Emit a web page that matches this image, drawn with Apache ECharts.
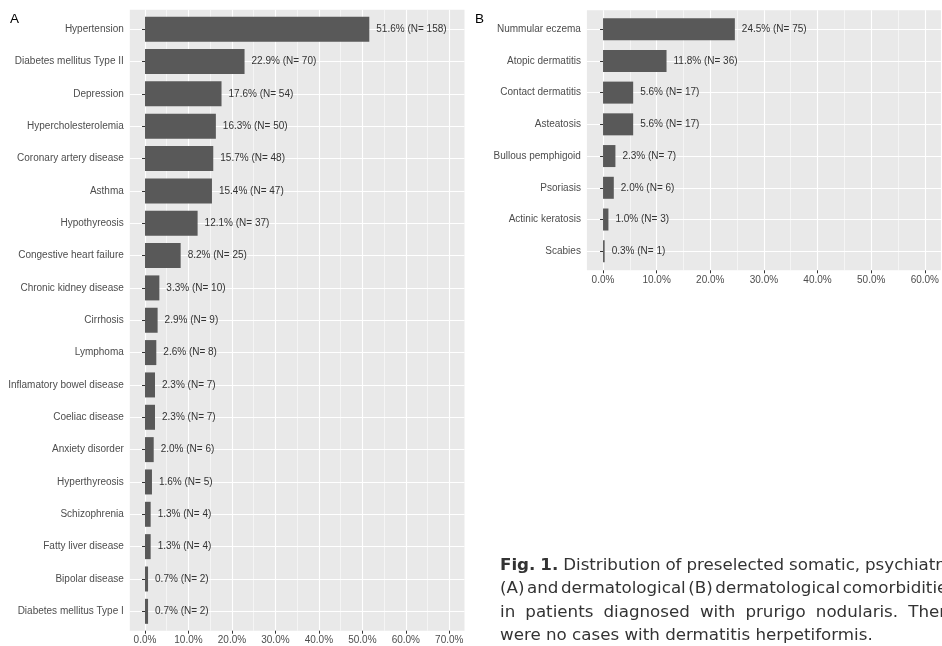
<!DOCTYPE html>
<html>
<head>
<meta charset="utf-8">
<script src="https://cdn.jsdelivr.net/npm/echarts@6/dist/echarts.min.js"></script>
<style>html,body{margin:0;padding:0;background:#fff}#c{width:942px;height:646px}</style>
</head>
<body>
<div id="c"></div>
<script>
const catsA = ['Hypertension','Diabetes mellitus Type II','Depression','Hypercholesterolemia','Coronary artery disease','Asthma','Hypothyreosis','Congestive heart failure','Chronic kidney disease','Cirrhosis','Lymphoma','Inflamatory bowel disease','Coeliac disease','Anxiety disorder','Hyperthyreosis','Schizophrenia','Fatty liver disease','Bipolar disease','Diabetes mellitus Type I'];
const pctA = [51.6,22.9,17.6,16.3,15.7,15.4,12.1,8.2,3.3,2.9,2.6,2.3,2.3,2.0,1.6,1.3,1.3,0.7,0.7];
const nA = [158,70,54,50,48,47,37,25,10,9,8,7,7,6,5,4,4,2,2];

const catsB = ['Nummular eczema','Atopic dermatitis','Contact dermatitis','Asteatosis','Bullous pemphigoid','Psoriasis','Actinic keratosis','Scabies'];
const pctB = [24.5,11.8,5.6,5.6,2.3,2.0,1.0,0.3];
const nB = [75,36,17,17,7,6,3,1];

const ticksA = [0,10,20,30,40,50,60,70];
const minorA = [5,15,25,35,45,55,65];
const ticksB = [0,10,20,30,40,50,60];
const minorB = [5,15,25,35,45,55];

const captionBold = 'Fig. 1.';
const captionLines = [
  'Distribution of preselected somatic, psychiatric',
  '(A) and dermatological (B) dermatological comorbidities',
  'in patients diagnosed with prurigo nodularis. There',
  'were no cases with dermatitis herpetiformis.'
];

const FONT = 'Liberation Sans, Arial, sans-serif';
const CAP_FONT = 'DejaVu Sans';
const CAP_SIZE = 16.7;
const chart = echarts.init(document.getElementById('c'), null, {renderer:'canvas'});

function majorX(grid, min, max, ticks){
  return {type:'value', gridIndex:grid, min:min, max:max, z:1,
    axisLine:{show:false},
    axisTick:{show:true, customValues:ticks, length:3, lineStyle:{color:'#333333', width:1}},
    axisLabel:{show:true, customValues:ticks, margin:5, color:'#4D4D4D', fontSize:10, fontFamily:FONT,
      formatter:v=>v.toFixed(1)+'%'},
    splitLine:{show:true, lineStyle:{color:'#FFFFFF', width:1.1}}};
}
function minorX(grid, min, max, ticks){
  return {type:'value', gridIndex:grid, min:min, max:max, z:1,
    axisLine:{show:false},
    axisTick:{show:false, customValues:ticks},
    axisLabel:{show:false, customValues:ticks},
    splitLine:{show:true, lineStyle:{color:'#FFFFFF', width:0.55}}};
}
function hiddenX(grid, min, max){
  return {type:'value', gridIndex:grid, min:min, max:max, show:false, splitLine:{show:false}};
}
function catY(grid, cats){
  return {type:'category', gridIndex:grid, data:cats, inverse:true, z:1,
    axisLine:{show:false},
    axisTick:{show:true, alignWithLabel:true, length:3, lineStyle:{color:'#333333', width:1}},
    axisLabel:{margin:6, color:'#4D4D4D', fontSize:10, fontFamily:FONT},
    splitLine:{show:true, alignWithLabel:true, lineStyle:{color:'#FFFFFF', width:1.1}}};
}
function hiddenY(grid){
  return {type:'value', gridIndex:grid, min:0, max:1, show:false, splitLine:{show:false}};
}
function barSeries(xi, yi, vals, counts, w){
  return {type:'bar', xAxisIndex:xi, yAxisIndex:yi, data:vals, barWidth:w, z:2,
    itemStyle:{color:'#595959'},
    label:{show:true, position:'right', distance:7, color:'#333333', fontSize:10, fontFamily:FONT,
      formatter:p=>p.value.toFixed(1)+'% (N= '+counts[p.dataIndex]+')'},
    emphasis:{disabled:true}, animation:false};
}

// justified caption text (words placed along each line)
const mctx = document.createElement('canvas').getContext('2d');
function measure(t, bold){
  mctx.font = (bold ? 'bold ' : '') + CAP_SIZE + 'px "' + CAP_FONT + '"';
  return mctx.measureText(t).width;
}
function captionLine(tokens, x0, x1, y, justify){
  const widths = tokens.map(t => measure(t.text, t.bold));
  const total = widths.reduce((a,b)=>a+b,0);
  const spaceW = measure(' ', false);
  let gap = justify ? (x1 - x0 - total) / (tokens.length - 1) : spaceW;
  if (gap < 2.5) gap = 2.5;
  const els = [];
  let x = x0;
  tokens.forEach((t,i)=>{
    els.push({type:'text', x:x, y:y, silent:true,
      style:{text:t.text, fontSize:CAP_SIZE, fontFamily:CAP_FONT, fontWeight:t.bold?'bold':'normal',
        fill:'#333333', verticalAlign:'middle', align:'left'}});
    x += widths[i] + gap;
  });
  return els;
}
const capX0 = 500, capX1 = 956;
const capY = [565.5, 589, 612.5, 636];
let captionEls = [];
captionLines.forEach((line, i)=>{
  let tokens = line.split(' ').map(w=>({text:w, bold:false}));
  if (i === 0) tokens = captionBold.split(' ').map(w=>({text:w, bold:true})).concat(tokens);
  captionEls = captionEls.concat(captionLine(tokens, capX0, capX1, capY[i], i < captionLines.length - 1));
});

const option = {
  animation:false,
  grid:[
    {left:129.8, top:9.8, width:334.7, height:620.9, show:true, backgroundColor:'#E9E9E9', borderWidth:0, z:0},
    {left:129.8, top:13.0, width:334.7, height:614.5, show:false},
    {left:586.9, top:10.2, width:361.2, height:260.1, show:true, backgroundColor:'#E9E9E9', borderWidth:0, z:0},
    {left:586.9, top:13.3, width:361.2, height:253.8, show:false}
  ],
  xAxis:[
    majorX(0,-3.5,73.5,ticksA),
    minorX(0,-3.5,73.5,minorA),
    hiddenX(1,-3.5,73.5),
    majorX(2,-3,63,ticksB),
    minorX(2,-3,63,minorB),
    hiddenX(3,-3,63)
  ],
  yAxis:[
    hiddenY(0),
    catY(1,catsA),
    hiddenY(2),
    catY(3,catsB)
  ],
  series:[
    barSeries(2,1,pctA,nA,25),
    barSeries(5,3,pctB,nB,22)
  ],
  graphic:[
    {type:'text', left:10, top:12, style:{text:'A', fontSize:13.5, fontFamily:FONT, fill:'#000'}},
    {type:'text', left:475, top:12, style:{text:'B', fontSize:13.5, fontFamily:FONT, fill:'#000'}}
  ].concat(captionEls)
};
chart.setOption(option);
</script>
</body>
</html>
